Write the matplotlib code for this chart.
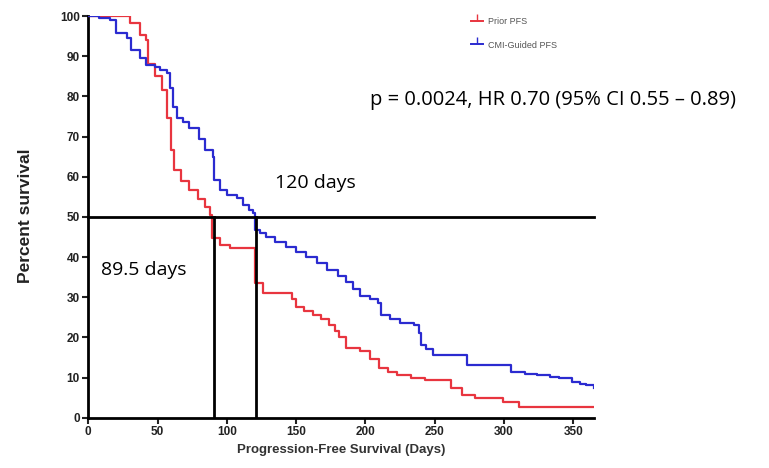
import matplotlib
matplotlib.use("Agg")
import matplotlib.pyplot as plt
from matplotlib.lines import Line2D

# Kaplan-Meier step points (day, percent surviving)
prior_days = [0, 30, 37, 42, 43, 48, 53, 57, 60, 62, 67, 73, 79, 84, 87.6, 89.5, 95, 102,
              120, 126, 147, 150, 156, 162, 168, 174, 178, 181, 186, 196, 203, 210, 216,
              223, 233, 243, 262, 270, 279, 299, 311, 365]
prior_pct = [100, 98.2, 95.3, 94, 88, 85, 81.5, 74.6, 66.6, 61.6, 59, 56.6, 54.5, 52.5, 50.5,
             44.7, 43, 42.2, 33.5, 31, 29.5, 27.6, 26.5, 25.6, 24.5, 23, 21.5, 20, 17.3, 16.5,
             14.5, 12.3, 11.5, 10.6, 10, 9.4, 7.5, 5.6, 4.8, 4, 2.7, 2.7]

cmi_days = [0, 8, 15.6, 20, 27.7, 31, 37, 42, 48, 52, 56.5, 59, 61, 63.7, 68, 73, 80, 84, 90,
            91, 95, 100, 107, 112, 116, 119, 120, 124, 128.5, 135, 143, 150, 157, 165, 172,
            180, 186, 191, 196, 203, 209, 211, 218, 225, 235, 239, 240, 244, 249, 273, 305,
            315, 324, 333, 340, 349, 355, 359, 365]
cmi_pct = [100, 99.5, 99, 95.7, 94.4, 91.5, 89.5, 87.8, 87.4, 86.5, 85.7, 82, 77.4, 74.5, 73.5,
           72, 69.5, 66.6, 65, 59.2, 56.7, 55.5, 54.6, 53, 51.7, 50.9, 46.7, 46, 45, 43.8, 42.6,
           41.3, 40, 38.5, 36.8, 35.3, 33.9, 32, 30.3, 29.5, 28.5, 25.6, 24.5, 23.5, 23.1, 21,
           18.1, 17, 15.6, 13.1, 11.5, 11, 10.6, 10.2, 9.8, 9, 8.5, 8.1, 7.3]

median_prior = 89.5
median_cmi = 120
series_names = ["Prior PFS", "CMI-Guided PFS"]
red = "#e8353f"
blue = "#2b2bd0"

fig = plt.figure(figsize=(7.69, 4.68), dpi=100)
ax = fig.add_axes([88.3 / 769, 50.3 / 468, (594 - 88.3) / 769, (417.7 - 16) / 468])

ax.step(prior_days, prior_pct, where="post", color=red, lw=1.6, zorder=3)
ax.step(cmi_days, cmi_pct, where="post", color=blue, lw=1.6, zorder=3)

# median reference lines
ax.plot([0, 365], [50, 50], color="black", lw=2, zorder=4, clip_on=False)
ax.plot([median_prior + 1.3, median_prior + 1.3], [0, 50], color="black", lw=2, zorder=4)
ax.plot([median_cmi + 0.8, median_cmi + 0.8], [0, 50], color="black", lw=2, zorder=4)

ax.set_xlim(0, 365)
ax.set_ylim(0, 100)
ax.set_xticks(range(0, 351, 50))
ax.set_yticks(range(0, 101, 10))
for s in ["top", "right"]:
    ax.spines[s].set_visible(False)
for s in ["left", "bottom"]:
    ax.spines[s].set_linewidth(2)
ax.tick_params(direction="out", length=4, width=1.5, labelsize=8.5, colors="#222222", pad=2)
for lab in ax.get_xticklabels() + ax.get_yticklabels():
    lab.set_fontweight("bold")
    lab.set_family("Liberation Sans")

ax.set_xlabel("Progression-Free Survival (Days)", fontsize=9.5, fontweight="bold",
              family="Liberation Sans", color="#333333", labelpad=4)
fig.text(25 / 769, 1 - 216 / 468, "Percent survival", rotation=90, fontsize=12.5,
         fontweight="bold", family="Liberation Sans", color="#222222", ha="center", va="center")

ax.text(134.5, 58.4, "120 days", fontsize=14, family="Open Sans", va="center")
ax.text(9.1, 36.8, "89.5 days", fontsize=14, family="Open Sans", va="center")
fig.text(370 / 769, 1 - 100 / 468, "p = 0.0024, HR 0.70 (95% CI 0.55 \u2013 0.89)",
         fontsize=14.5, family="Open Sans", va="center")

handles = [Line2D([0], [0], color=red, lw=1.4, marker=2, markersize=5),
           Line2D([0], [0], color=blue, lw=1.4, marker=2, markersize=5)]
fig.legend(handles, series_names, loc="upper left", bbox_to_anchor=(463 / 769, 1 - 9 / 468),
           frameon=False, handlelength=1.3, labelcolor="#555555", handletextpad=0.6,
           labelspacing=1.6, prop={"family": "Liberation Sans", "size": 6.5})

fig.savefig("out.png", dpi=100)
